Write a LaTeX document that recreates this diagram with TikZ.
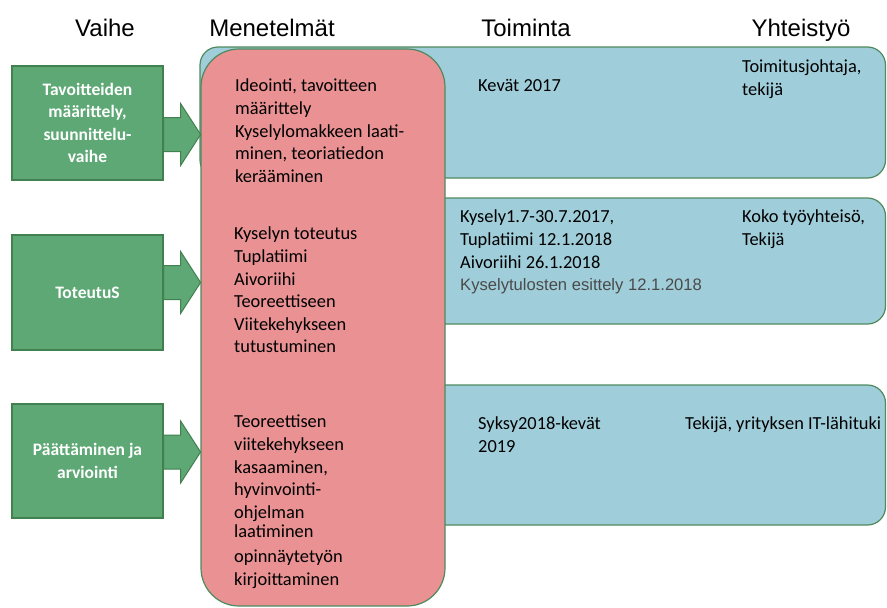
\documentclass[tikz,border=0pt]{standalone}
\usepackage{fontspec}
\setmainfont{Carlito}
\newfontfamily\hdrfont{Liberation Sans}
\usetikzlibrary{calc}
\definecolor{gfill}{HTML}{5DA874}
\definecolor{gline}{HTML}{41804F}
\definecolor{rfill}{HTML}{E99193}
\definecolor{bfill}{HTML}{9FCEDA}
\definecolor{bline}{HTML}{4E8A5E}
\definecolor{graytext}{HTML}{4A4A4A}
\newcommand{\blockarrow}[1]{%
  \draw[barrow] (#1) ++(0,-17) -- ++(17,0) -- ++(0,-14) -- ++(20,31) -- ++(-20,31) -- ++(0,-14) -- ++(-17,0) -- cycle;}
\begin{document}
\begin{tikzpicture}[x=1pt,y=-1pt,
  hdrtext/.style={font=\hdrfont\fontsize{24}{28}\selectfont, inner sep=0, anchor=base},
  phase/.style={draw=gline, line width=1.2pt, fill=gfill, text=white,
    font=\bfseries\fontsize{17.5}{22.6}\selectfont, align=center,
    minimum width=151pt, inner sep=0},
  barrow/.style={draw=gline, fill=gfill, line width=1pt, line join=miter},
  bbox/.style={draw=bline, fill=bfill, line width=1.2pt, rounded corners=18pt},
  rbox/.style={draw=bline, fill=rfill, line width=1.2pt, rounded corners=38pt},
  body/.style={font=\fontsize{18.4}{22.6}\selectfont, align=left, inner sep=0, anchor=north west},
]
\useasboundingbox (0,0) rectangle (887,608);

% headers
\node[hdrtext] (h1) at (105,36) {Vaihe};
\node[hdrtext] (h2) at (272,36) {Menetelmät};
\node[hdrtext] (h3) at (526,36) {Toiminta};
\node[hdrtext] (h4) at (801,36) {Yhteistyö};

% blue boxes (behind)
\draw[bbox] (200,47) rectangle (885.5,178);
\draw[bbox] (420,198) rectangle (885.5,324);
\draw[bbox] (420,385) rectangle (885.5,525);

% red box
\draw[rbox] (201,49) rectangle (445,606);

% phase boxes
\node[phase, minimum height=114pt] (g1) at (87.5,123) {Tavoitteiden\\määrittely,\\suunnittelu-\\vaihe};
\node[phase, minimum height=115pt] (g2) at (87.5,292.5) {ToteutuS};
\node[phase, minimum height=114pt] (g3) at (87.5,461) {Päättäminen ja\\arviointi};

% block arrows
\coordinate (a1) at ($(g1.east)+(0,11.5)$);
\coordinate (a2) at ($(g2.east)+(0,-10)$);
\coordinate (a3) at ($(g3.east)+(0,-9)$);
\blockarrow{a1}
\blockarrow{a2}
\blockarrow{a3}

% methods text
\node[body] (m1) at (235,79) {Ideointi, tavoitteen\\määrittely\\Kyselylomakkeen laati-\\minen, teoriatiedon\\kerääminen};
\node[body] (m2) at (234,227) {Kyselyn toteutus\\Tuplatiimi\\Aivoriihi\\Teoreettiseen\\Viitekehykseen\\tutustuminen};
\node[body] (m3) at (234,415) {Teoreettisen\\viitekehykseen\\kasaaminen,\\hyvinvointi-\\ohjelman\\[-3pt]laatiminen\\[2pt]opinnäytetyön\\kirjoittaminen};

% activity text
\node[body] (t1) at (478,79) {Kevät 2017};
\node[body] (t2) at (460,210) {Kysely1.7-30.7.2017,\\Tuplatiimi 12.1.2018\\Aivoriihi 26.1.2018\\{\hdrfont\fontsize{16.6}{22.6}\selectfont\color{graytext}Kyselytulosten esittely 12.1.2018}};
\node[body] (t3) at (478,417) {Syksy2018-kevät\\2019};

% cooperation text
\node[body] (y1) at (742,60) {Toimitusjohtaja,\\tekijä};
\node[body] (y2) at (742,210) {Koko työyhteisö,\\Tekijä};
\node[body] (y3) at (685,417) {Tekijä, yrityksen IT-lähituki};
\end{tikzpicture}
\end{document}
